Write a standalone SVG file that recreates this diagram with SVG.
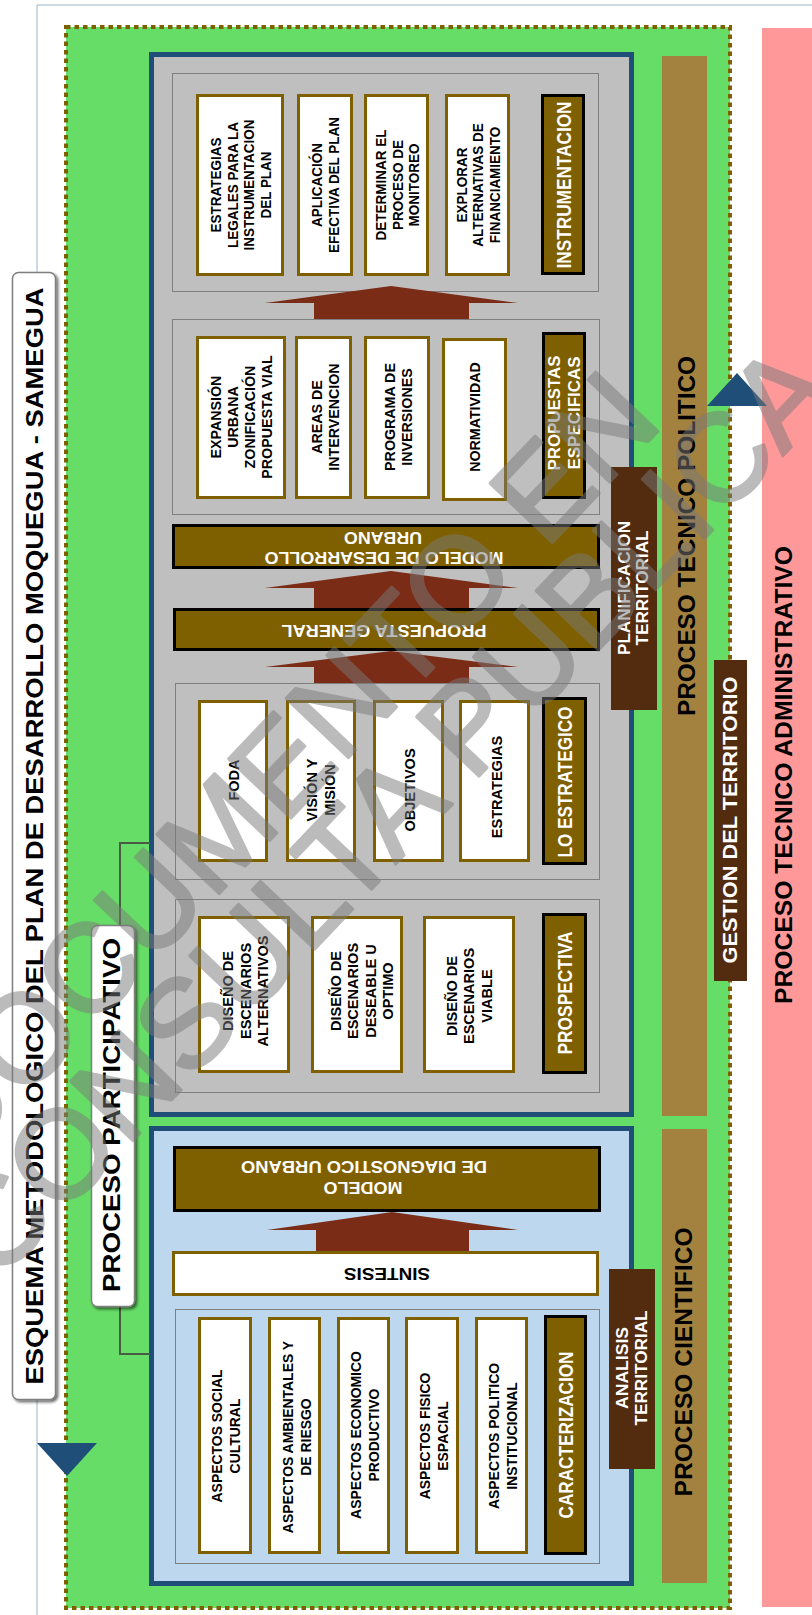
<svg xmlns="http://www.w3.org/2000/svg" width="812" height="1615" viewBox="0 0 812 1615">
<defs>
<style>
text{font-family:"Liberation Sans",Arial,sans-serif;font-weight:bold}
.it{font-size:15px;fill:#000;text-anchor:middle}
.lw{fill:#fff}
.lk{fill:#000}
.item{fill:#fff;stroke:#7f6000;stroke-width:3}
.lab{fill:#7f6000;stroke:#000;stroke-width:3}
.grp{fill:#bfbfbf;stroke:#7f7f7f;stroke-width:1}
.grpb{fill:#bdd7ee;stroke:#7f7f7f;stroke-width:1}
.cont{stroke:#1f4e79;stroke-width:5}
.arr{fill:#7b2c16}
.olive{fill:#a2823e}
.dark{fill:#532b0f}
.tri{fill:#1f4e79}
.conn{fill:none;stroke:#4b5a46;stroke-width:2}
.tbox{fill:#fff;stroke:#7f7f7f;stroke-width:1.5}
.wm{font-family:"Liberation Sans",Arial,sans-serif;font-weight:normal;font-size:125px;fill:#7a7a7a;stroke:#7a7a7a;stroke-width:3;stroke-linejoin:round}
</style>
<filter id="sh" x="-30%" y="-5%" width="160%" height="110%">
<feGaussianBlur in="SourceAlpha" stdDeviation="1.5"/>
<feOffset dx="2" dy="2" result="o"/>
<feComponentTransfer><feFuncA type="linear" slope="0.6"/></feComponentTransfer>
<feMerge><feMergeNode/><feMergeNode in="SourceGraphic"/></feMerge>
</filter>
</defs>
<rect x="0" y="0" width="812" height="1615" fill="#fff"/>
<path d="M37 5 H812 M37 5 V1615" stroke="#9fb4c9" stroke-width="1" fill="none"/>

<g id="area">
<rect x="66" y="27" width="664" height="1581" fill="#66dd66" stroke="#7f6000" stroke-width="4" stroke-dasharray="4.5 4"/>
</g>
<g id="proceso-tecnico-administrativo">
<rect x="762" y="28" width="50" height="1579" fill="#ff9999"/>
<text class="lk" font-size="24" x="563" y="775" transform="rotate(-90 792 775)" textLength="458" lengthAdjust="spacingAndGlyphs">PROCESO TECNICO ADMINISTRATIVO</text>
</g>
<g id="proceso-tecnico-politico">
<rect class="olive" x="662" y="56" width="45" height="1060"/>
<text class="lk" font-size="24" x="515" y="536" transform="rotate(-90 695 536)" textLength="360" lengthAdjust="spacingAndGlyphs">PROCESO TECNICO POLITICO</text>
</g>
<g id="proceso-cientifico">
<rect class="olive" x="662" y="1129" width="45" height="454"/>
<text class="lk" font-size="23" x="557.5" y="1362" transform="rotate(-90 692 1362)" textLength="269" lengthAdjust="spacingAndGlyphs">PROCESO CIENTIFICO</text>
</g>

<g id="contenedor-propuesta">
<rect class="cont" x="151.5" y="54.5" width="480" height="1060" fill="#bfbfbf"/>
</g>
<g id="contenedor-diagnostico">
<rect class="cont" x="151.5" y="1128.5" width="480" height="455" fill="#bdd7ee"/>
</g>

<g id="grupo-instrumentacion">
<rect class="grp" x="172.5" y="73.5" width="426" height="218"/>
<rect class="item" x="197.5" y="95.5" width="85" height="179"/>
<text class="it" transform="translate(0,185) rotate(-90) scale(0.9,1)"><tspan x="0" y="221">ESTRATEGIAS</tspan><tspan x="0" y="238">LEGALES PARA LA</tspan><tspan x="0" y="254.5">INSTRUMENTACION</tspan><tspan x="0" y="271">DEL PLAN</tspan></text>
<rect class="item" x="298.5" y="95.5" width="53" height="179"/>
<text class="it" transform="translate(0,185) rotate(-90) scale(0.9,1)"><tspan x="0" y="322.5">APLICACIÓN</tspan><tspan x="0" y="339">EFECTIVA DEL PLAN</tspan></text>
<rect class="item" x="365.5" y="95.5" width="62" height="179"/>
<text class="it" transform="translate(0,185) rotate(-90) scale(0.9,1)"><tspan x="0" y="386.5">DETERMINAR EL</tspan><tspan x="0" y="403">PROCESO DE</tspan><tspan x="0" y="419.5">MONITOREO</tspan></text>
<rect class="item" x="446.5" y="95.5" width="62" height="179"/>
<text class="it" transform="translate(0,185) rotate(-90) scale(0.9,1)"><tspan x="0" y="467">EXPLORAR</tspan><tspan x="0" y="483.5">ALTERNATIVAS DE</tspan><tspan x="0" y="500">FINANCIAMIENTO</tspan></text>
<rect class="lab" x="542.5" y="95.5" width="41" height="178"/>
<text class="lw" font-size="21" x="487.5" y="185" transform="rotate(-90 571 185)" textLength="167" lengthAdjust="spacingAndGlyphs">INSTRUMENTACION</text>
</g>

<g id="grupo-propuestas">
<rect class="grp" x="172.5" y="319.5" width="427" height="195"/>
<rect class="item" x="197.5" y="337.5" width="87" height="160"/>
<text class="it" transform="translate(0,417) rotate(-90) scale(0.95,1)"><tspan x="0" y="221.5">EXPANSIÓN</tspan><tspan x="0" y="238.5">URBANA</tspan><tspan x="0" y="255.5">ZONIFICACIÓN</tspan><tspan x="0" y="272.5">PROPUESTA VIAL</tspan></text>
<rect class="item" x="296.5" y="337.5" width="54" height="160"/>
<text class="it" transform="translate(0,417) rotate(-90) scale(0.95,1)"><tspan x="0" y="322">AREAS DE</tspan><tspan x="0" y="339">INTERVENCION</tspan></text>
<rect class="item" x="365.5" y="337.5" width="63" height="160"/>
<text class="it" transform="translate(0,417) rotate(-90) scale(0.95,1)"><tspan x="0" y="395.5">PROGRAMA DE</tspan><tspan x="0" y="412.5">INVERSIONES</tspan></text>
<rect class="item" x="443.5" y="339.5" width="62" height="160"/>
<text class="it" transform="translate(0,417) rotate(-90) scale(0.95,1)"><tspan x="0" y="480">NORMATIVIDAD</tspan></text>
<rect class="lab" x="543.5" y="333.5" width="41" height="164"/>
<text class="lw" font-size="17" x="502.5" y="413" transform="rotate(-90 560 413)" textLength="115" lengthAdjust="spacingAndGlyphs">PROPUESTAS</text>
<text class="lw" font-size="17" x="523.5" y="413" transform="rotate(-90 580 413)" textLength="113" lengthAdjust="spacingAndGlyphs">ESPECIFICAS</text>
</g>

<g id="modelo-desarrollo-urbano">
<rect class="lab" x="173.5" y="525.5" width="425" height="42"/>
<text class="lw" font-size="16" x="344" y="532" transform="rotate(180 383 532)" textLength="78" lengthAdjust="spacingAndGlyphs">URBANO</text>
<text class="lw" font-size="16" x="264.5" y="552" transform="rotate(180 384 552)" textLength="239" lengthAdjust="spacingAndGlyphs">MODELO DE DESARROLLO</text>
</g>

<g id="propuesta-general">
<rect class="lab" x="174.5" y="609.5" width="424" height="40"/>
<text class="lw" font-size="17" x="281.5" y="625" transform="rotate(180 384 625)" textLength="205" lengthAdjust="spacingAndGlyphs">PROPUESTA GENERAL</text>
</g>

<g id="grupo-estrategico">
<rect class="grp" x="175.5" y="683.5" width="424" height="196"/>
<rect class="item" x="199.5" y="701.5" width="67" height="159"/>
<text class="it" transform="translate(0,780) rotate(-90) scale(0.97,1)"><tspan x="0" y="239.5">FODA</tspan></text>
<rect class="item" x="287.5" y="701.5" width="67" height="159"/>
<text class="it" transform="translate(0,790) rotate(-90) scale(0.97,1)"><tspan x="0" y="317.5">VISIÓN Y</tspan><tspan x="0" y="335.5">MISIÓN</tspan></text>
<rect class="item" x="374.5" y="701.5" width="68" height="159"/>
<text class="it" transform="translate(0,790) rotate(-90) scale(0.97,1)"><tspan x="0" y="415">OBJETIVOS</tspan></text>
<rect class="item" x="460.5" y="701.5" width="68" height="159"/>
<text class="it" transform="translate(0,787) rotate(-90) scale(0.97,1)"><tspan x="0" y="502">ESTRATEGIAS</tspan></text>
<rect class="lab" x="543.5" y="698.5" width="42" height="165"/>
<text class="lw" font-size="21" x="496.5" y="782" transform="rotate(-90 572 782)" textLength="151" lengthAdjust="spacingAndGlyphs">LO ESTRATEGICO</text>
</g>

<g id="grupo-prospectiva">
<rect class="grp" x="175.5" y="899.5" width="424" height="193"/>
<rect class="item" x="199.5" y="917.5" width="89" height="154"/>
<text class="it" transform="translate(0,991) rotate(-90) scale(0.97,1)"><tspan x="0" y="233.5">DISEÑO DE</tspan><tspan x="0" y="251">ESCENARIOS</tspan><tspan x="0" y="268.5">ALTERNATIVOS</tspan></text>
<rect class="item" x="312.5" y="917.5" width="89" height="154"/>
<text class="it" transform="translate(0,991) rotate(-90) scale(0.97,1)"><tspan x="0" y="341">DISEÑO DE</tspan><tspan x="0" y="358.5">ESCENARIOS</tspan><tspan x="0" y="376">DESEABLE U</tspan><tspan x="0" y="393.5">OPTIMO</tspan></text>
<rect class="item" x="424.5" y="917.5" width="89" height="154"/>
<text class="it" transform="translate(0,996) rotate(-90) scale(0.97,1)"><tspan x="0" y="457">DISEÑO DE</tspan><tspan x="0" y="474.5">ESCENARIOS</tspan><tspan x="0" y="492">VIABLE</tspan></text>
<rect class="lab" x="543.5" y="914.5" width="42" height="158"/>
<text class="lw" font-size="21" x="510.5" y="993" transform="rotate(-90 572 993)" textLength="123" lengthAdjust="spacingAndGlyphs">PROSPECTIVA</text>
</g>

<g id="modelo-diagnostico-urbano">
<rect class="lab" x="174.5" y="1147.5" width="425" height="63"/>
<text class="lw" font-size="16" x="241" y="1161" transform="rotate(180 364 1161)" textLength="246" lengthAdjust="spacingAndGlyphs">DE DIAGNOSTICO URBANO</text>
<text class="lw" font-size="16" x="323.5" y="1182" transform="rotate(180 363 1182)" textLength="79" lengthAdjust="spacingAndGlyphs">MODELO</text>
</g>

<g id="sintesis">
<rect class="item" x="173.5" y="1252.5" width="424" height="42"/>
<text class="lk" font-size="17" x="344" y="1268" transform="rotate(180 387 1268)" textLength="86" lengthAdjust="spacingAndGlyphs">SINTESIS</text>
</g>

<g id="grupo-caracterizacion">
<rect class="grpb" x="175.5" y="1309.5" width="424" height="254"/>
<rect class="item" x="199.5" y="1318.5" width="51" height="234"/>
<text class="it" font-size="15.5" transform="translate(0,1436) rotate(-90) scale(0.93,1)"><tspan x="0" y="222.5">ASPECTOS SOCIAL</tspan><tspan x="0" y="240.5">CULTURAL</tspan></text>
<rect class="item" x="269.5" y="1318.5" width="50" height="234"/>
<text class="it" font-size="15.5" transform="translate(0,1437) rotate(-90) scale(0.93,1)"><tspan x="0" y="293">ASPECTOS AMBIENTALES Y</tspan><tspan x="0" y="311">DE RIESGO</tspan></text>
<rect class="item" x="338.5" y="1318.5" width="50" height="234"/>
<text class="it" font-size="15.5" transform="translate(0,1435) rotate(-90) scale(0.93,1)"><tspan x="0" y="361">ASPECTOS ECONOMICO</tspan><tspan x="0" y="379">PRODUCTIVO</tspan></text>
<rect class="item" x="406.5" y="1318.5" width="51" height="234"/>
<text class="it" font-size="15.5" transform="translate(0,1436) rotate(-90) scale(0.93,1)"><tspan x="0" y="430">ASPECTOS FISICO</tspan><tspan x="0" y="448">ESPACIAL</tspan></text>
<rect class="item" x="476.5" y="1318.5" width="50" height="234"/>
<text class="it" font-size="15.5" transform="translate(0,1436) rotate(-90) scale(0.93,1)"><tspan x="0" y="499.5">ASPECTOS POLITICO</tspan><tspan x="0" y="517.5">INSTITUCIONAL</tspan></text>
<rect class="lab" x="545.5" y="1316.5" width="40" height="237"/>
<text class="lw" font-size="21" x="489.5" y="1435" transform="rotate(-90 573 1435)" textLength="167" lengthAdjust="spacingAndGlyphs">CARACTERIZACION</text>
</g>

<g id="connectors">
<polygon class="arr" points="265,303 391,286 518,303 469,303 469,319 314,319 314,303"/>
<polygon class="arr" points="265,588 391,571 518,588 469,588 469,608 314,608 314,588"/>
<polygon class="arr" points="265,667 391,651 518,667 469,667 469,683 314,683 314,667"/>
<polygon class="arr" points="267,1230 392,1212 518,1230 469,1230 469,1251 316,1251 316,1230"/>
<path class="conn" d="M150 843 H120 V925 M120 1307 V1354 H150"/>
<polygon class="tri" points="37,1443 97,1443 67,1476"/>
<polygon class="tri" points="707,406 767,406 737,373"/>
</g>

<g id="planificacion-territorial">
<rect class="dark" x="611" y="467" width="46" height="243"/>
<text class="lw" font-size="17" x="563" y="588" transform="rotate(-90 630 588)" textLength="134" lengthAdjust="spacingAndGlyphs">PLANIFICACION</text>
<text class="lw" font-size="17" x="590.5" y="588" transform="rotate(-90 648 588)" textLength="115" lengthAdjust="spacingAndGlyphs">TERRITORIAL</text>
</g>
<g id="analisis-territorial">
<rect class="dark" x="609" y="1269" width="46" height="200"/>
<text class="lw" font-size="17" x="587" y="1368" transform="rotate(-90 628 1368)" textLength="82" lengthAdjust="spacingAndGlyphs">ANALISIS</text>
<text class="lw" font-size="17" x="589.5" y="1368" transform="rotate(-90 647 1368)" textLength="115" lengthAdjust="spacingAndGlyphs">TERRITORIAL</text>
</g>
<g id="gestion-territorio">
<rect class="dark" x="714" y="660" width="33" height="321"/>
<text class="lw" font-size="20" x="593.5" y="820" transform="rotate(-90 737 820)" textLength="287" lengthAdjust="spacingAndGlyphs">GESTION DEL TERRITORIO</text>
</g>

<g id="titulo">
<rect class="tbox" x="12.5" y="272.5" width="43" height="1127" rx="6" filter="url(#sh)"/>
<text class="lk" font-size="24" x="-505.5" y="836" transform="rotate(-90 43 836)" textLength="1097" lengthAdjust="spacingAndGlyphs">ESQUEMA METODOLOGICO DEL PLAN DE DESARROLLO MOQUEGUA - SAMEGUA</text>
</g>
<g id="proceso-participativo">
<rect class="tbox" x="91.5" y="925.5" width="43" height="381" rx="6" filter="url(#sh)"/>
<text class="lk" font-size="24" x="-57" y="1115" transform="rotate(-90 120 1115)" textLength="354" lengthAdjust="spacingAndGlyphs">PROCESO PARTICIPATIVO</text>
</g>

<g id="watermark" opacity="0.5">
<text class="wm" x="-41" y="1168" transform="rotate(-46.5 -41 1168)">DOCUMENTO EN</text>
<text class="wm" x="-3" y="1284" transform="rotate(-46.5 -3 1284)">CONSULTA PUBLICA</text>
</g>
</svg>
